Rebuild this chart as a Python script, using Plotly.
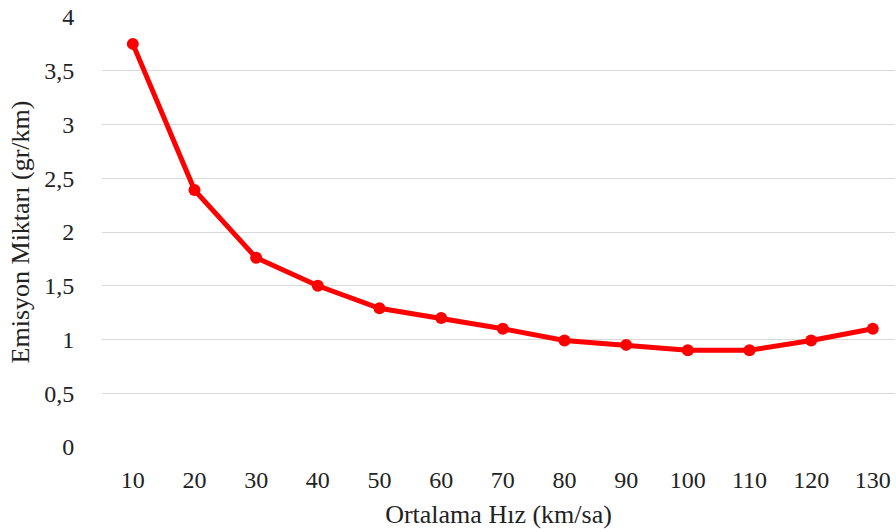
import plotly.graph_objects as go

hiz = ["10", "20", "30", "40", "50", "60", "70", "80", "90", "100", "110", "120", "130"]
emisyon = [3.75, 2.39, 1.76, 1.50, 1.29, 1.20, 1.10, 0.99, 0.95, 0.90, 0.90, 0.99, 1.10]
y_ticks = [0, 0.5, 1, 1.5, 2, 2.5, 3, 3.5, 4]
y_tick_text = ["0", "0,5", "1", "1,5", "2", "2,5", "3", "3,5", "4"]

font_family = "Liberation Serif"

fig = go.Figure()
fig.add_trace(go.Scatter(
    x=hiz, y=emisyon, mode="lines+markers",
    line=dict(color="#ff0000", width=5),
    marker=dict(color="#ff0000", size=12),
    showlegend=False,
))

fig.update_layout(
    width=896, height=532,
    margin=dict(l=102, r=1, t=17, b=85),
    paper_bgcolor="white", plot_bgcolor="white",
    font=dict(family=font_family, size=24, color="#222222"),
    xaxis=dict(
        type="category", range=[-0.5, 12.36],
        showgrid=False, showline=False, zeroline=False,
        ticks="outside", ticklen=11, tickcolor="rgba(0,0,0,0)",
        title=dict(text="Ortalama Hız (km/sa)", font=dict(size=26), standoff=13),
    ),
    yaxis=dict(
        range=[0, 4], tickvals=y_ticks, ticktext=y_tick_text,
        showgrid=True, gridcolor="#d9d9d9", gridwidth=1.3,
        zeroline=False, showline=False,
        ticks="outside", ticklen=22, tickcolor="rgba(0,0,0,0)",
        title=dict(text="Emisyon Miktarı (gr/km)", font=dict(size=26), standoff=7),
    ),
)

fig.write_html("out.html")
